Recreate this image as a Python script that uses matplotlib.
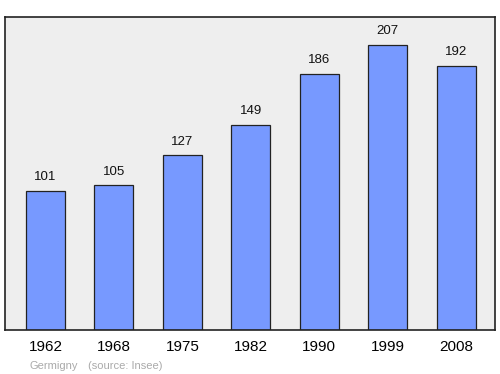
import matplotlib
matplotlib.use("Agg")
import matplotlib.pyplot as plt

plt.rcParams["font.family"] = ["Liberation Sans", "DejaVu Sans"]

years = ["1962", "1968", "1975", "1982", "1990", "1999", "2008"]
population = [101, 105, 127, 149, 186, 207, 192]

fig = plt.figure(figsize=(5, 3.74), dpi=100)
W, H = 500, 374
ax = fig.add_axes([5 / W, 1 - 330 / H, 490 / W, 313 / H])
ax.set_facecolor("#eeeeee")
x = list(range(len(years)))
ax.bar(x, population, width=0.57, color="#7799ff", edgecolor="#222222", linewidth=0.9)
for xi, v in zip(x, population):
    ax.text(xi, v + 5.5, str(v), ha="center", va="bottom", fontsize=9.5, color="#111111")
ax.set_xlim(-0.592, 6.57)
ax.set_ylim(0, 227.3)
ax.set_yticks([])
ax.set_xticks(x)
ax.set_xticklabels(years, fontsize=11)
ax.tick_params(axis="x", length=0, pad=7.5)
for s in ax.spines.values():
    s.set_color("#222222")
    s.set_linewidth(1.2)
fig.text(30 / W, 1 - 366 / H, "Germigny", fontsize=8, color="#aaaaaa", va="center")
fig.text(88 / W, 1 - 366 / H, "(source: Insee)", fontsize=8, color="#aaaaaa", va="center")
fig.savefig("out.png", dpi=100, facecolor="white")
